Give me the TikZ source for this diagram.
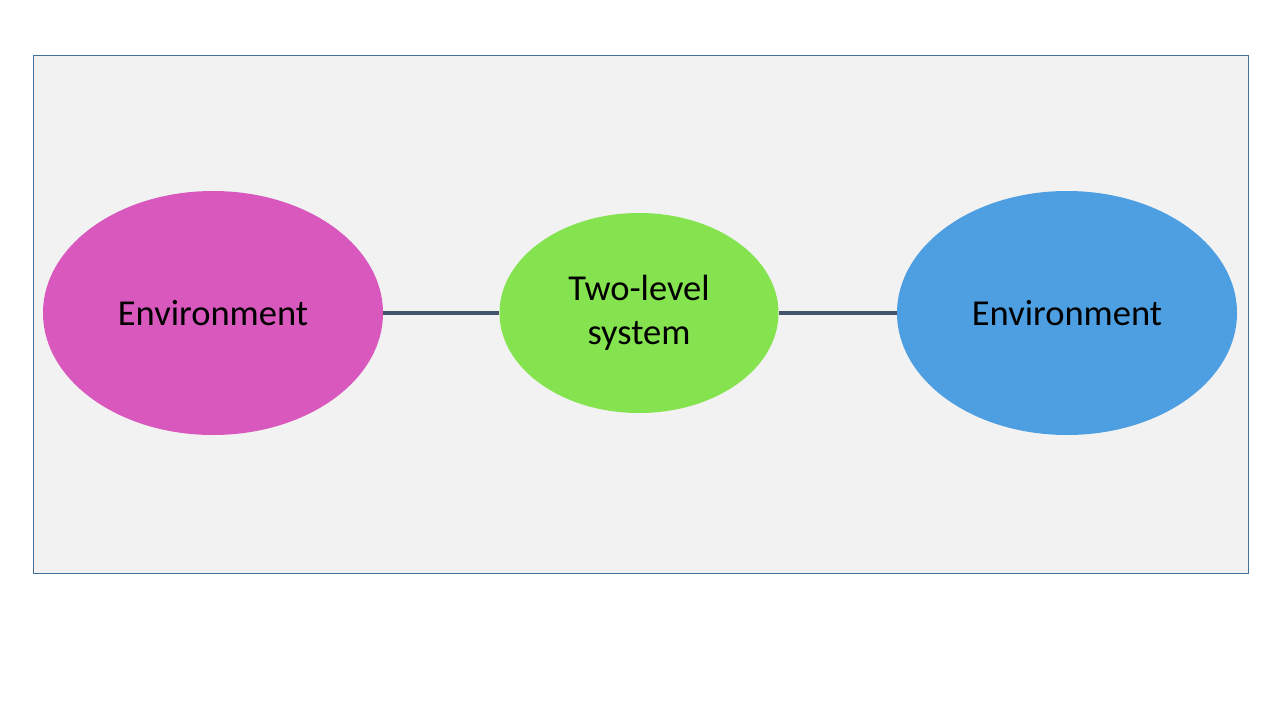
\documentclass[tikz,border=0pt]{standalone}
\usepackage{fontspec}
\setmainfont{Carlito}
\usetikzlibrary{shapes.geometric}
\definecolor{panelfill}{HTML}{F2F2F2}
\definecolor{panelline}{HTML}{41719C}
\definecolor{envmag}{HTML}{D858BE}
\definecolor{envblue}{HTML}{4D9FE1}
\definecolor{tlsgreen}{HTML}{84E34E}
\definecolor{linkcol}{HTML}{44546A}
\begin{document}
\begin{tikzpicture}[x=1pt,y=-1pt,
  blob/.style={ellipse,draw=none,inner sep=0pt,font=\fontsize{36.5}{44}\selectfont,align=center},
  link/.style={draw=linkcol,line width=3.5pt}]
\useasboundingbox (0,0) rectangle (1280,720);
\fill[white] (0,0) rectangle (1280,720);
\node[draw=panelline,fill=panelfill,line width=1pt,minimum width=1215pt,minimum height=518pt,inner sep=0pt] (panel) at (640.5,314) {};
\node[blob,fill=envmag,minimum width=340pt,minimum height=244pt] (envL) at (213,313) {Environment};
\node[blob,fill=tlsgreen,minimum width=279pt,minimum height=200pt] (tls) at (639,313) {\raisebox{-2pt}{Two-level}\\\raisebox{-2pt}{system}};
\node[blob,fill=envblue,minimum width=340pt,minimum height=244pt] (envR) at (1067,313) {Environment};
\draw[link] (envL.east) -- (tls.west);
\draw[link] (tls.east) -- (envR.west);
\end{tikzpicture}
\end{document}
